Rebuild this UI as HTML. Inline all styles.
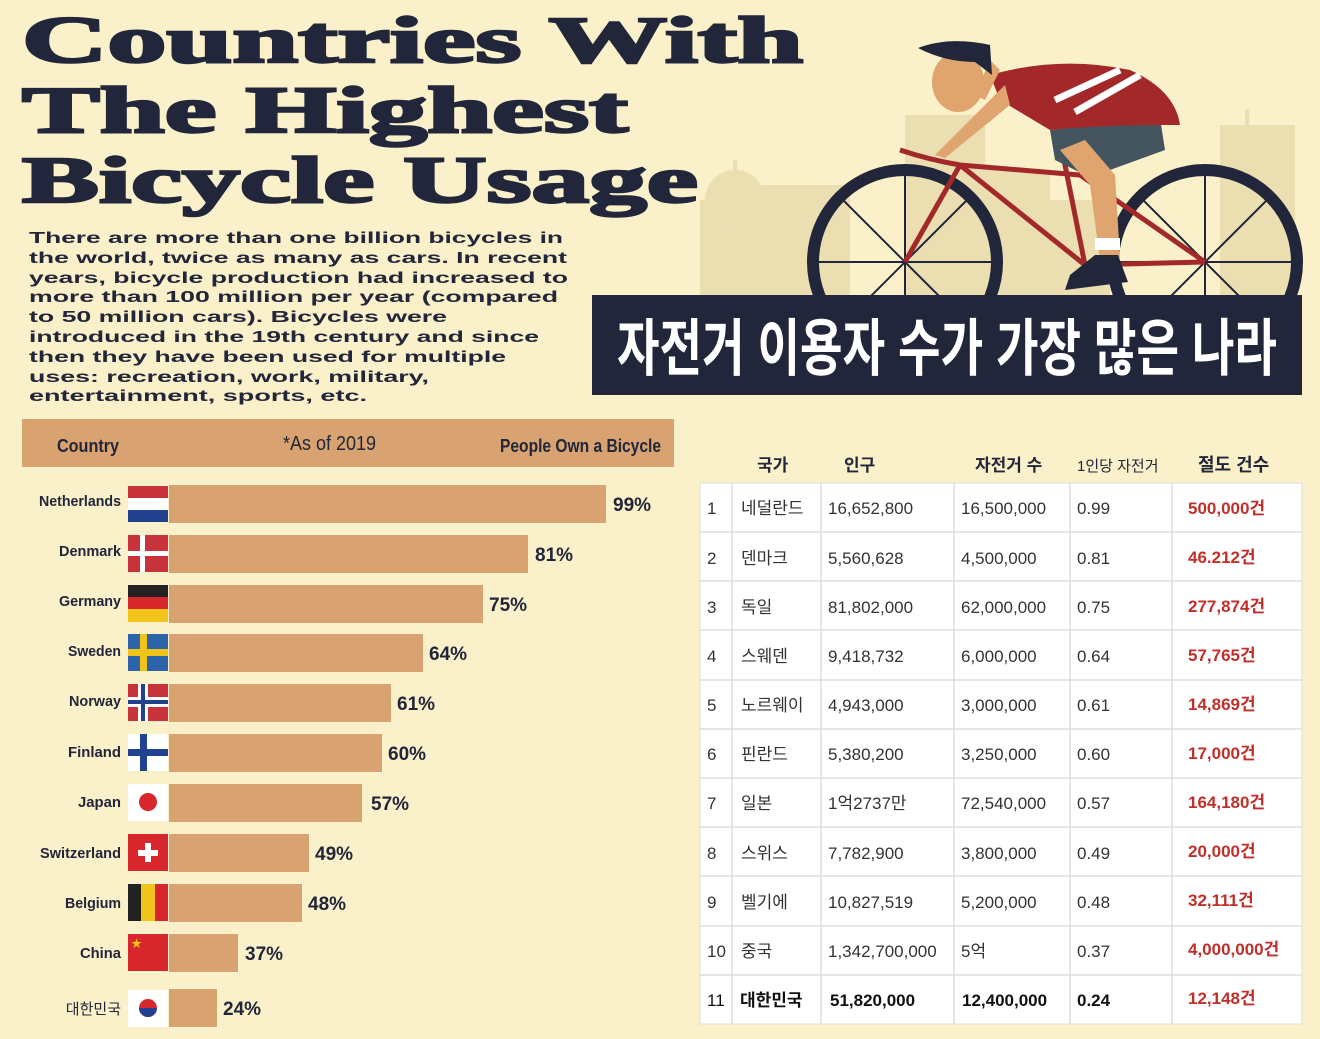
<!DOCTYPE html>
<html><head><meta charset="utf-8"><style>
html,body{margin:0;padding:0;background:#faf0c9;}
svg{display:block;}
text{font-family:"Liberation Sans","Noto Sans CJK KR",sans-serif;}
</style></head><body>
<svg width="1320" height="1039" viewBox="0 0 1320 1039" xmlns="http://www.w3.org/2000/svg">
<rect width="1320" height="1039" fill="#faf0c9"/>
<!-- skyline -->
<g fill="#ebdfb2">
<rect x="700" y="200" width="70" height="100"/>
<circle cx="735" cy="200" r="30"/>
<rect x="733" y="160" width="4" height="30"/>
<rect x="750" y="185" width="100" height="115"/>
<rect x="905" y="115" width="80" height="185"/>
<rect x="960" y="170" width="90" height="130"/>
<rect x="1040" y="200" width="70" height="100"/>
<rect x="1220" y="125" width="75" height="175"/>
<rect x="1245" y="110" width="4" height="20"/>
</g>
<!-- title -->
<g fill="#22263a" stroke="#22263a" stroke-width="2.5" font-weight="bold">
<text x="22" y="62" font-size="66" textLength="781" lengthAdjust="spacingAndGlyphs" style="font-family:'Liberation Serif',serif">Countries With</text>
<text x="22" y="132" font-size="66" textLength="606" lengthAdjust="spacingAndGlyphs" style="font-family:'Liberation Serif',serif">The Highest</text>
<text x="22" y="202" font-size="66" textLength="676" lengthAdjust="spacingAndGlyphs" style="font-family:'Liberation Serif',serif">Bicycle Usage</text>
</g>
<g fill="#22263a" font-weight="bold" font-size="16">
<text x="29" y="243" textLength="534" lengthAdjust="spacingAndGlyphs">There are more than one billion bicycles in</text>
<text x="29" y="263" textLength="538" lengthAdjust="spacingAndGlyphs">the world, twice as many as cars. In recent</text>
<text x="29" y="283" textLength="539" lengthAdjust="spacingAndGlyphs">years, bicycle production had increased to</text>
<text x="29" y="302" textLength="529" lengthAdjust="spacingAndGlyphs">more than 100 million per year (compared</text>
<text x="29" y="322" textLength="418" lengthAdjust="spacingAndGlyphs">to 50 million cars). Bicycles were</text>
<text x="29" y="342" textLength="510" lengthAdjust="spacingAndGlyphs">introduced in the 19th century and since</text>
<text x="29" y="362" textLength="477" lengthAdjust="spacingAndGlyphs">then they have been used for multiple</text>
<text x="29" y="382" textLength="400" lengthAdjust="spacingAndGlyphs">uses: recreation, work, military,</text>
<text x="29" y="401" textLength="338" lengthAdjust="spacingAndGlyphs">entertainment, sports, etc.</text>
</g>
<!-- bike -->
<g fill="none" stroke="#22263a">
<circle cx="905" cy="262" r="92" stroke-width="12"/>
<circle cx="1205" cy="262" r="92" stroke-width="12"/>
<g stroke-width="2">
<line x1="905" y1="175" x2="905" y2="349"/><line x1="818" y1="262" x2="992" y2="262"/>
<line x1="843" y1="200" x2="967" y2="324"/><line x1="967" y1="200" x2="843" y2="324"/>
<line x1="1205" y1="175" x2="1205" y2="349"/><line x1="1118" y1="262" x2="1292" y2="262"/>
<line x1="1143" y1="200" x2="1267" y2="324"/><line x1="1267" y1="200" x2="1143" y2="324"/>
</g></g>
<g stroke="#a3282a" stroke-width="5" fill="none">
<line x1="905" y1="262" x2="960" y2="165"/><line x1="960" y1="165" x2="1080" y2="175"/>
<line x1="960" y1="165" x2="1085" y2="265"/><line x1="1085" y1="265" x2="1205" y2="262"/>
<line x1="1080" y1="175" x2="1205" y2="262"/><line x1="1060" y1="140" x2="1085" y2="265"/>
<path d="M900 150 Q930 160 960 165"/>
</g>
<!-- rider -->
<path d="M1050 130 L1160 118 L1165 150 L1110 170 L1085 175 L1055 160 Z" fill="#455560"/>
<path d="M1060 150 L1090 185 L1100 260 L1120 258 L1115 175 L1085 140 Z" fill="#e0a56e"/>
<path d="M1095 255 L1118 255 L1128 282 L1065 290 L1070 275 Z" fill="#22263a"/>
<rect x="1095" y="238" width="25" height="12" fill="#fff"/>
<path d="M990 75 Q1060 55 1130 70 Q1175 90 1180 125 L1160 125 Q1100 125 1050 130 L1000 100 Z" fill="#a3282a"/>
<g stroke="#fff" stroke-width="7"><line x1="1055" y1="100" x2="1120" y2="70"/><line x1="1075" y1="112" x2="1140" y2="75"/></g>
<path d="M1005 85 L945 145 L935 155 L945 158 L1010 105 Z" fill="#e0a56e"/>
<path d="M990 60 L975 95 L985 100 L1000 70 Z" fill="#e0a56e"/>
<ellipse cx="958" cy="82" rx="26" ry="30" fill="#e0a56e"/>
<path d="M918 48 Q950 36 990 45 L992 75 L975 62 Q945 62 918 48 Z" fill="#22263a"/>
<!-- banner -->
<rect x="592" y="295" width="710" height="100" fill="#22263a"/>
<text x="947" y="370" text-anchor="middle" fill="#fff" font-size="62" font-weight="bold" textLength="660" lengthAdjust="spacingAndGlyphs">자전거 이용자 수가 가장 많은 나라</text>
<!-- chart header -->
<rect x="22" y="419" width="652" height="48" fill="#d9a371"/>
<g fill="#22263a" font-weight="bold" font-size="18">
<text x="57" y="452" textLength="62" lengthAdjust="spacingAndGlyphs">Country</text>
<text x="283" y="450" font-weight="normal" font-size="20" textLength="93" lengthAdjust="spacingAndGlyphs">*As of 2019</text>
<text x="500" y="452" textLength="161" lengthAdjust="spacingAndGlyphs">People Own a Bicycle</text>
</g>
<!-- bars -->
<g fill="#d9a371">
<rect x="169" y="485" width="437" height="38"/>
<rect x="169" y="535" width="359" height="38"/>
<rect x="169" y="585" width="314" height="38"/>
<rect x="169" y="634" width="254" height="38"/>
<rect x="169" y="684" width="222" height="38"/>
<rect x="169" y="734" width="213" height="38"/>
<rect x="169" y="784" width="193" height="38"/>
<rect x="169" y="834" width="140" height="38"/>
<rect x="169" y="884" width="133" height="38"/>
<rect x="169" y="934" width="69" height="38"/>
<rect x="169" y="989" width="48" height="38"/>
</g>
<!-- flags -->
<g>
<rect x="128" y="486" width="40" height="12" fill="#c8323a"/><rect x="128" y="498" width="40" height="12" fill="#fff"/><rect x="128" y="510" width="40" height="12" fill="#22418f"/>
<rect x="128" y="535" width="40" height="37" fill="#c8323a"/><rect x="140" y="535" width="5" height="37" fill="#fff"/><rect x="128" y="551" width="40" height="5" fill="#fff"/>
<rect x="128" y="585" width="40" height="12" fill="#222"/><rect x="128" y="597" width="40" height="12" fill="#d8262d"/><rect x="128" y="609" width="40" height="13" fill="#f2c318"/>
<rect x="128" y="634" width="40" height="37" fill="#2d63a8"/><rect x="140" y="634" width="7" height="37" fill="#f2c318"/><rect x="128" y="649" width="40" height="7" fill="#f2c318"/>
<rect x="128" y="684" width="40" height="37" fill="#c8323a"/><rect x="138" y="684" width="10" height="37" fill="#fff"/><rect x="128" y="697" width="40" height="10" fill="#fff"/><rect x="141" y="684" width="4" height="37" fill="#22418f"/><rect x="128" y="700" width="40" height="4" fill="#22418f"/>
<rect x="128" y="734" width="40" height="37" fill="#fff"/><rect x="140" y="734" width="7" height="37" fill="#22418f"/><rect x="128" y="749" width="40" height="7" fill="#22418f"/>
<rect x="128" y="784" width="40" height="37" fill="#fff"/><circle cx="148" cy="802" r="9" fill="#d8262d"/>
<rect x="128" y="834" width="40" height="37" fill="#d8262d"/><rect x="145" y="843" width="6" height="19" fill="#fff"/><rect x="138" y="850" width="20" height="6" fill="#fff"/>
<rect x="128" y="884" width="13" height="37" fill="#222"/><rect x="141" y="884" width="14" height="37" fill="#f2c318"/><rect x="155" y="884" width="13" height="37" fill="#d8262d"/>
<rect x="128" y="934" width="40" height="37" fill="#d8262d"/><text x="131" y="947" font-size="11" fill="#f2c318">★</text>
<rect x="128" y="990" width="40" height="37" fill="#fff"/><circle cx="148" cy="1008" r="9" fill="#d8262d"/><path d="M139 1008 A9 9 0 0 0 157 1008 Z" fill="#22418f"/>
</g>
<g fill="#22263a" font-weight="bold" font-size="15" text-anchor="end">
<text x="121" y="506" textLength="82" lengthAdjust="spacingAndGlyphs">Netherlands</text>
<text x="121" y="556" textLength="62" lengthAdjust="spacingAndGlyphs">Denmark</text>
<text x="121" y="606" textLength="62" lengthAdjust="spacingAndGlyphs">Germany</text>
<text x="121" y="656" textLength="53" lengthAdjust="spacingAndGlyphs">Sweden</text>
<text x="121" y="706" textLength="52" lengthAdjust="spacingAndGlyphs">Norway</text>
<text x="121" y="757" textLength="53" lengthAdjust="spacingAndGlyphs">Finland</text>
<text x="121" y="807" textLength="43" lengthAdjust="spacingAndGlyphs">Japan</text>
<text x="121" y="858" textLength="81" lengthAdjust="spacingAndGlyphs">Switzerland</text>
<text x="121" y="908" textLength="56" lengthAdjust="spacingAndGlyphs">Belgium</text>
<text x="121" y="958" textLength="41" lengthAdjust="spacingAndGlyphs">China</text>
<text x="121" y="1014" font-weight="normal">대한민국</text>
</g>
<g fill="#22263a" font-weight="bold" font-size="19">
<text x="613" y="511">99%</text><text x="535" y="561">81%</text><text x="489" y="611">75%</text>
<text x="429" y="660">64%</text><text x="397" y="710">61%</text><text x="388" y="760">60%</text>
<text x="371" y="810">57%</text><text x="315" y="860">49%</text><text x="308" y="910">48%</text>
<text x="245" y="960">37%</text><text x="223" y="1015">24%</text>
</g>
<!-- table -->
<g fill="#22263a" font-size="17" font-weight="bold">
<text x="757" y="471">국가</text><text x="844" y="471">인구</text><text x="975" y="471">자전거 수</text>
<text x="1077" y="471" font-size="15" font-weight="normal">1인당 자전거</text><text x="1198" y="471" font-size="18">절도 건수</text>
</g>
<rect x="700" y="483" width="602" height="541" fill="#fff" stroke="#ddd"/>
<g stroke="#ddd" stroke-width="1.5">
<line x1="700" y1="532" x2="1302" y2="532"/><line x1="700" y1="581" x2="1302" y2="581"/>
<line x1="700" y1="630" x2="1302" y2="630"/><line x1="700" y1="680" x2="1302" y2="680"/>
<line x1="700" y1="729" x2="1302" y2="729"/><line x1="700" y1="778" x2="1302" y2="778"/>
<line x1="700" y1="827" x2="1302" y2="827"/><line x1="700" y1="876" x2="1302" y2="876"/>
<line x1="700" y1="926" x2="1302" y2="926"/><line x1="700" y1="975" x2="1302" y2="975"/>
<line x1="732" y1="483" x2="732" y2="1024"/><line x1="821" y1="483" x2="821" y2="1024"/>
<line x1="954" y1="483" x2="954" y2="1024"/><line x1="1070" y1="483" x2="1070" y2="1024"/>
<line x1="1172" y1="483" x2="1172" y2="1024"/>
</g>
<g fill="#333" font-size="17">
<g><text x="707" y="514">1</text><text x="741" y="514">네덜란드</text><text x="828" y="514">16,652,800</text><text x="961" y="514">16,500,000</text><text x="1077" y="514">0.99</text><text x="1188" y="514" fill="#c0302a" font-weight="bold">500,000건</text></g>
<g><text x="707" y="564">2</text><text x="741" y="564">덴마크</text><text x="828" y="564">5,560,628</text><text x="961" y="564">4,500,000</text><text x="1077" y="564">0.81</text><text x="1188" y="563" fill="#c0302a" font-weight="bold">46.212건</text></g>
<g><text x="707" y="613">3</text><text x="741" y="613">독일</text><text x="828" y="613">81,802,000</text><text x="961" y="613">62,000,000</text><text x="1077" y="613">0.75</text><text x="1188" y="612" fill="#c0302a" font-weight="bold">277,874건</text></g>
<g><text x="707" y="662">4</text><text x="741" y="662">스웨덴</text><text x="828" y="662">9,418,732</text><text x="961" y="662">6,000,000</text><text x="1077" y="662">0.64</text><text x="1188" y="661" fill="#c0302a" font-weight="bold">57,765건</text></g>
<g><text x="707" y="711">5</text><text x="741" y="711">노르웨이</text><text x="828" y="711">4,943,000</text><text x="961" y="711">3,000,000</text><text x="1077" y="711">0.61</text><text x="1188" y="710" fill="#c0302a" font-weight="bold">14,869건</text></g>
<g><text x="707" y="760">6</text><text x="741" y="760">핀란드</text><text x="828" y="760">5,380,200</text><text x="961" y="760">3,250,000</text><text x="1077" y="760">0.60</text><text x="1188" y="759" fill="#c0302a" font-weight="bold">17,000건</text></g>
<g><text x="707" y="809">7</text><text x="741" y="809">일본</text><text x="828" y="809">1억2737만</text><text x="961" y="809">72,540,000</text><text x="1077" y="809">0.57</text><text x="1188" y="808" fill="#c0302a" font-weight="bold">164,180건</text></g>
<g><text x="707" y="859">8</text><text x="741" y="859">스위스</text><text x="828" y="859">7,782,900</text><text x="961" y="859">3,800,000</text><text x="1077" y="859">0.49</text><text x="1188" y="857" fill="#c0302a" font-weight="bold">20,000건</text></g>
<g><text x="707" y="908">9</text><text x="741" y="908">벨기에</text><text x="828" y="908">10,827,519</text><text x="961" y="908">5,200,000</text><text x="1077" y="908">0.48</text><text x="1188" y="906" fill="#c0302a" font-weight="bold">32,111건</text></g>
<g><text x="707" y="957">10</text><text x="741" y="957">중국</text><text x="828" y="957">1,342,700,000</text><text x="961" y="957">5억</text><text x="1077" y="957">0.37</text><text x="1188" y="955" fill="#c0302a" font-weight="bold">4,000,000건</text></g>
<g font-weight="bold" fill="#111"><text x="707" y="1006" font-weight="normal">11</text><text x="740" y="1006">대한민국</text><text x="830" y="1006">51,820,000</text><text x="962" y="1006">12,400,000</text><text x="1077" y="1006">0.24</text><text x="1188" y="1004" fill="#c0302a">12,148건</text></g>
</g>
</svg>
</body></html>
